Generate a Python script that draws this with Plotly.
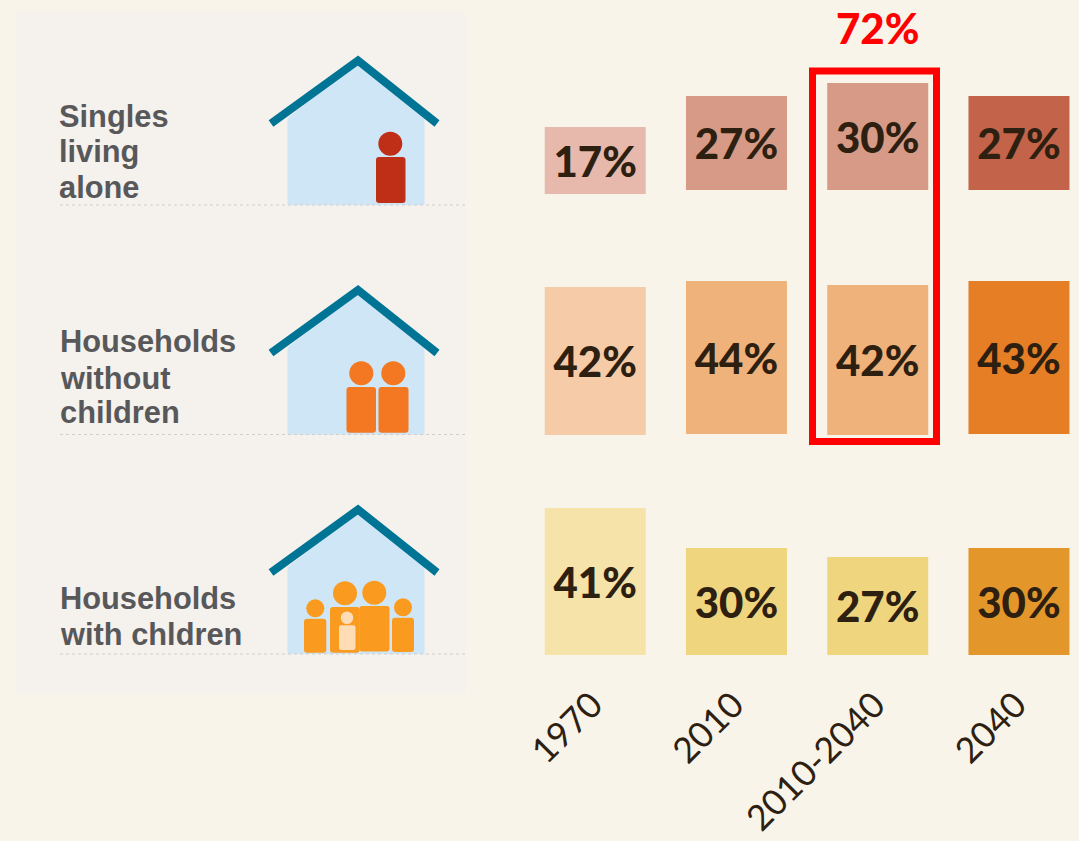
import plotly.graph_objects as go

W, H = 1079, 841
AXIS_Y = 676

periods = ["1970", "2010", "2010-2040", "2040"]
singles_labels = ["17%", "27%", "30%", "27%"]
nochild_labels = ["42%", "44%", "42%", "43%"]
child_labels = ["41%", "30%", "27%", "30%"]
# drawn heights and bases of the blocks, in axis units measured up from the foot of the picture
singles_heights = [67, 94, 107, 94]
singles_bases = [647, 651, 651, 651]
nochild_heights = [148, 153, 150, 153]
nochild_bases = [406, 407, 406, 407]
child_heights = [147, 107, 98, 107]
child_bases = [186, 186, 186, 186]
singles_colors = ["#e6b9ac", "#d79a86", "#d79a86", "#c3634a"]
nochild_colors = ["#f6cba8", "#f0b27b", "#f0b27b", "#e67e26"]
child_colors = ["#f6e3a9", "#efd67e", "#efd67e", "#e3972b"]

DARK = "#2e2010"
BG = "#f8f4e9"
PANEL = "#f5f1ed"
HOUSE = "#cfe6f6"
ROOF = "#007494"
GREY = "#58585a"

side_lines = [("Singles", 59, 126.5), ("living", 59, 162), ("alone", 59, 197.5),
              ("Households", 60, 352), ("without", 60, 388), ("children", 60, 423),
              ("Households", 60, 608), ("with chldren", 60, 644)]
house_offsets = [0, 229.5, 449]

fx = lambda x: x / W
fy = lambda y: 1 - y / H
shapes = []


def add_path(d, **kw):
    shapes.append(dict(type="path", path=d, xref="paper", yref="paper", **kw))


def rrect(x0, y0, x1, y1, color, r=3):
    a, b, c, d = fx(x0), fy(y0), fx(x1), fy(y1)
    rx, ry = r / W, r / H
    p = (f"M{a+rx},{b} L{c-rx},{b} Q{c},{b} {c},{b-ry} L{c},{d+ry} Q{c},{d} {c-rx},{d} "
         f"L{a+rx},{d} Q{a},{d} {a},{d+ry} L{a},{b-ry} Q{a},{b} {a+rx},{b} Z")
    add_path(p, fillcolor=color, line=dict(width=0))


def circle(cx, cy, r, color):
    shapes.append(dict(type="circle", xref="paper", yref="paper",
                       x0=fx(cx - r), x1=fx(cx + r), y0=fy(cy + r), y1=fy(cy - r),
                       fillcolor=color, line=dict(width=0)))


shapes.append(dict(type="rect", xref="paper", yref="paper", x0=fx(16), x1=fx(465), y0=fy(695), y1=fy(12),
                   fillcolor=PANEL, line=dict(width=0)))
for dy in house_offsets:
    body = [(287.5, 205), (287.5, 118), (358, 62), (424.5, 118), (424.5, 205)]
    add_path("M" + " L".join(f"{fx(x)},{fy(y+dy)}" for x, y in body) + " Z", fillcolor=HOUSE, line=dict(width=0))
    shapes.append(dict(type="line", xref="paper", yref="paper", x0=fx(60), x1=fx(465), y0=fy(205 + dy), y1=fy(205 + dy),
                       line=dict(color="#cfcfcf", width=1, dash="dot")))
    roof = [(271, 123.5), (358, 60.5), (437, 123.5)]
    add_path("M" + " L".join(f"{fx(x)},{fy(y+dy)}" for x, y in roof), line=dict(color=ROOF, width=8))

circle(390.3, 143.7, 12, "#bf2e17")
rrect(376, 157, 405.5, 203, "#bf2e17")
for cx, x0, x1 in [(361.3, 346.5, 376), (393.3, 378.5, 408.5)]:
    circle(cx, 373.3, 12, "#f47721")
    rrect(x0, 387, x1, 432.7, "#f47721")
FAM = "#fa9a1e"
for cx, cy, r in [(315.3, 608.3, 9), (345, 593.3, 12), (374.3, 592.7, 12), (403, 607.3, 9)]:
    circle(cx, cy, r, FAM)
for box in [(304, 618.7, 326.3, 652.7), (330, 607, 359.6, 652.7), (359.3, 606, 389.5, 651.5), (392, 617.7, 414, 652)]:
    rrect(*box, FAM)
circle(347, 617.7, 6.3, "#fddcb6")
rrect(339, 625.3, 355.5, 650, "#fddcb6", 2)

fig = go.Figure()
for heights, bases, colors, labels in [
    (singles_heights, singles_bases, singles_colors, singles_labels),
    (nochild_heights, nochild_bases, nochild_colors, nochild_labels),
    (child_heights, child_bases, child_colors, child_labels),
]:
    fig.add_trace(go.Bar(x=periods, y=heights, base=bases, marker=dict(color=colors, line=dict(width=0)),
                         text=labels, textposition="inside", insidetextanchor="middle", textangle=0,
                         constraintext="none", cliponaxis=False,
                         textfont=dict(family="Lato", size=42, color=DARK, weight=900), showlegend=False))

# red frame drawn on top
shapes.append(dict(type="rect", xref="paper", yref="paper", x0=fx(812.5), x1=fx(936.5), y0=fy(441.5), y1=fy(71),
                   line=dict(color="#ff0000", width=7), layer="above"))

annotations = [dict(text=t, x=fx(x), y=fy(b - 10), xref="paper", yref="paper", xanchor="left", yanchor="middle",
                    showarrow=False, xshift=-2, font=dict(family="Liberation Sans", size=30.8, color=GREY, weight=700))
               for t, x, b in side_lines]
annotations.append(dict(text="72%", x=fx(877), y=fy(28), xref="paper", yref="paper", showarrow=False,
                        xanchor="center", yanchor="middle",
                        font=dict(family="Lato", size=42, color="#ff0000", weight=900)))

fig.update_layout(
    width=W, height=H, margin=dict(l=0, r=0, t=0, b=0), paper_bgcolor=BG, plot_bgcolor="rgba(0,0,0,0)",
    barmode="overlay", bargap=0.285, shapes=shapes, annotations=annotations,
    xaxis=dict(type="category", domain=[524.6 / W, 1], range=[-0.5, 3.425], showgrid=False, showline=False, zeroline=False,
               ticks="", tickangle=-45, ticklabelshift=-3, tickfont=dict(family="Lato", size=35.5, color=DARK),
               automargin=False, fixedrange=True),
    yaxis=dict(domain=[1 - AXIS_Y / H, 1], range=[H - AXIS_Y, H], visible=False, automargin=False, fixedrange=True),
)
fig.write_html("out.html", config=dict(displayModeBar=False),
               post_script="document.body.style.margin='0';document.body.style.overflow='hidden';")
